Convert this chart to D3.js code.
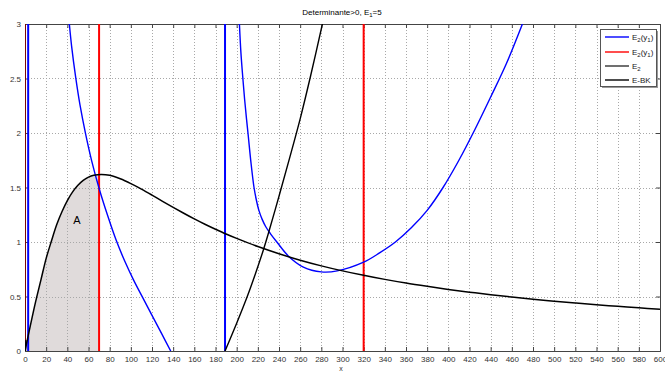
<!DOCTYPE html>
<html><head><meta charset="utf-8">
<script src="https://cdn.jsdelivr.net/npm/d3@7"></script>
<style>
html,body{margin:0;padding:0;background:#fff;}
svg{display:block;font-family:"Liberation Sans",Arial,sans-serif;}
</style></head>
<body>
<script>
// ---- data ----
const xTicks = [0,20,40,60,80,100,120,140,160,180,200,220,240,260,280,300,320,340,360,380,400,420,440,460,480,500,520,540,560,580,600];
const yTicks = [0,0.5,1,1.5,2,2.5,3];

// E-BK (black, decaying curve)
const ebkX = [0,5,10,15,20,25,30,35,40,45,50,55,60,65,72,80,90,100,110,120,130,140,150,160,170,180,190,200,220,240,260,280,300,320,340,360,380,400,420,440,460,480,500,520,540,560,580,600];
const ebkY = [0,0.23,0.45,0.65,0.85,1.01,1.16,1.28,1.38,1.46,1.52,1.565,1.595,1.612,1.62,1.612,1.58,1.536,1.485,1.43,1.373,1.318,1.264,1.212,1.163,1.117,1.073,1.033,0.958,0.892,0.833,0.781,0.735,0.694,0.657,0.623,0.593,0.565,0.54,0.516,0.495,0.475,0.457,0.44,0.424,0.41,0.396,0.383];

// E2(y1) blue, left branch
const blueLX = [41.9,44,47.9,52,57.3,63,69.9,78,86,94,102.4,111,120,129,137.7];
const blueLY = [3,2.8,2.51,2.255,1.99,1.745,1.496,1.245,1.02,0.83,0.655,0.494,0.327,0.161,0];

// E2(y1) blue, right branch
const blueRX = [202.6,204,205.7,207.5,209.3,211,213.5,216.4,218.5,221,224,227.5,232,238,249,263,280,295,320,335,350,365,380,395,410,425,440,455,470];
const blueRY = [3,2.74,2.52,2.31,2.13,1.97,1.73,1.5,1.39,1.29,1.21,1.14,1.075,1.0,0.87,0.77,0.726,0.735,0.815,0.9,1.0,1.13,1.29,1.5,1.75,2.03,2.33,2.64,3.0];

// E2 black, rising branch
const e2X = [189,200,210,217.4,225,230,240,250,260,270,281];
const e2Y = [0,0.255,0.5,0.7,0.92,1.08,1.42,1.77,2.13,2.53,3.0];
const e2SmallX = [0.4,0.9];
const e2SmallY = [0,0.1];

// vertical lines
const blueVLines = [3,189];
const redVLines = [70,320];
const darkRedVLines = [0.3];
const shadeEnd = 70;

const legendLabels = [["E","2","(y","1",")"],["E","2","(y","1",")"],["E","2"],["E-BK"]];
const legendColors = ["#0000ff","#ff0000","#333333","#000000"];

// ---- layout ----
const W = 665, H = 373;
const L = 25, R = 660, T = 24, B = 351;
const x = d3.scaleLinear().domain([0,600]).range([L,R]);
const y = d3.scaleLinear().domain([0,3]).range([B,T]);

const svg = d3.select("body").append("svg").attr("width",W).attr("height",H);

svg.append("defs").append("clipPath").attr("id","clip")
  .append("rect").attr("x",L).attr("y",T).attr("width",R-L).attr("height",B-T);
svg.select("defs").append("clipPath").attr("id","shadeclip")
  .append("rect").attr("x",x(0)).attr("y",T).attr("width",x(shadeEnd)-x(0)).attr("height",B-T);

const zipped = (xs,ys)=>xs.map((d,i)=>[d,ys[i]]);
const ebk = zipped(ebkX,ebkY);
const crv = d3.curveCatmullRom.alpha(0.5);

// shaded area
svg.append("path").datum(ebk)
  .attr("clip-path","url(#shadeclip)")
  .attr("fill","#e0dbdb")
  .attr("d",d3.area().x(d=>x(d[0])).y0(y(0)).y1(d=>y(d[1])).curve(crv));

// grid
const grid = svg.append("g");
grid.selectAll(".gx").data(xTicks.slice(1,-1)).join("line")
  .attr("x1",d=>Math.round(x(d))+0.5).attr("x2",d=>Math.round(x(d))+0.5).attr("y1",T).attr("y2",B)
  .attr("stroke","#a8a8a8").attr("stroke-width",1).attr("stroke-dasharray","1,2");
grid.selectAll(".gy").data(yTicks.slice(1,-1)).join("line")
  .attr("y1",d=>Math.round(y(d))+0.5).attr("y2",d=>Math.round(y(d))+0.5).attr("x1",L).attr("x2",R)
  .attr("stroke","#a8a8a8").attr("stroke-width",1).attr("stroke-dasharray","1,2");

// axes with inward ticks
const xb = d3.axisBottom(x).tickValues(xTicks).tickSize(-4).tickPadding(5).tickFormat(d3.format("d"));
const xt = d3.axisTop(x).tickValues(xTicks).tickSize(-4).tickFormat("");
const yl = d3.axisLeft(y).tickValues(yTicks).tickSize(-4).tickPadding(4).tickFormat(d=>String(d));
const yr = d3.axisRight(y).tickValues(yTicks).tickSize(-4).tickFormat("");
function style(g){
  g.selectAll("path").attr("stroke","#444");
  g.selectAll("line").attr("stroke","#444");
  g.selectAll("text").attr("fill","#333").attr("font-size",8).attr("font-family","Liberation Sans, Arial, sans-serif");
}
svg.append("g").attr("transform",`translate(0,${B})`).call(xb).call(style);
svg.append("g").attr("transform",`translate(0,${T})`).call(xt).call(style);
svg.append("g").attr("transform",`translate(${L},0)`).call(yl).call(style);
svg.append("g").attr("transform",`translate(${R},0)`).call(yr).call(style);

// plot lines
const plot = svg.append("g").attr("clip-path","url(#clip)");
const line = d3.line().x(d=>x(d[0])).y(d=>y(d[1])).curve(crv);

plot.selectAll(".dr").data(darkRedVLines).join("line")
  .attr("x1",d=>x(d)).attr("x2",d=>x(d)).attr("y1",y(0)).attr("y2",y(3))
  .attr("stroke","#800000").attr("stroke-width",1.2);
plot.selectAll(".bv").data(blueVLines).join("line")
  .attr("x1",d=>x(d)).attr("x2",d=>x(d)).attr("y1",y(0)).attr("y2",y(3))
  .attr("stroke","#0000ff").attr("stroke-width",2);
plot.selectAll(".rv").data(redVLines).join("line")
  .attr("x1",d=>x(d)).attr("x2",d=>x(d)).attr("y1",y(0)).attr("y2",y(3))
  .attr("stroke","#ff0000").attr("stroke-width",2);

plot.append("path").datum(zipped(blueLX,blueLY)).attr("d",line)
  .attr("fill","none").attr("stroke","#0000ff").attr("stroke-width",1.4);
plot.append("path").datum(zipped(blueRX,blueRY)).attr("d",line)
  .attr("fill","none").attr("stroke","#0000ff").attr("stroke-width",1.4);
plot.append("path").datum(zipped(e2X,e2Y)).attr("d",line)
  .attr("fill","none").attr("stroke","#000").attr("stroke-width",1.4);
plot.append("path").datum(zipped(e2SmallX,e2SmallY)).attr("d",line)
  .attr("fill","none").attr("stroke","#000").attr("stroke-width",1.4);
plot.append("path").datum(ebk).attr("d",line)
  .attr("fill","none").attr("stroke","#000").attr("stroke-width",1.5);

// label A
svg.append("text").attr("x",x(49)).attr("y",y(1.2)+4).attr("text-anchor","middle")
  .attr("font-size",11).attr("fill","#000").text("A");

// title
const title = svg.append("text").attr("x",342).attr("y",15).attr("text-anchor","middle")
  .attr("font-size",8).attr("fill","#000");
title.append("tspan").text("Determinante>0, E");
title.append("tspan").attr("dy",2).attr("font-size",6).text("1");
title.append("tspan").attr("dy",-2).text("=5");

// x label
svg.append("text").attr("x",341).attr("y",371).attr("text-anchor","middle")
  .attr("font-size",7).attr("fill","#333").text("x");

// legend
const lg = svg.append("g");
lg.append("rect").attr("x",602).attr("y",31).attr("width",56).attr("height",57).attr("fill","#999");
lg.append("rect").attr("x",600.5).attr("y",29.5).attr("width",56).attr("height",57)
  .attr("fill","#fff").attr("stroke","#555").attr("stroke-width",1);
const ly = [37,52,66,80];
legendLabels.forEach((parts,i)=>{
  lg.append("line").attr("x1",605).attr("x2",629).attr("y1",ly[i]).attr("y2",ly[i])
    .attr("stroke",legendColors[i]).attr("stroke-width",1.4);
  const t = lg.append("text").attr("x",632).attr("y",ly[i]+3).attr("font-size",8).attr("fill","#222");
  parts.forEach((p,j)=>{
    const isSub = (j%2===1);
    const ts = t.append("tspan").text(p);
    if(isSub){ ts.attr("font-size",6).attr("dy",2); }
    else if(j>0){ ts.attr("dy",-2); }
  });
});
</script>
</body></html>
